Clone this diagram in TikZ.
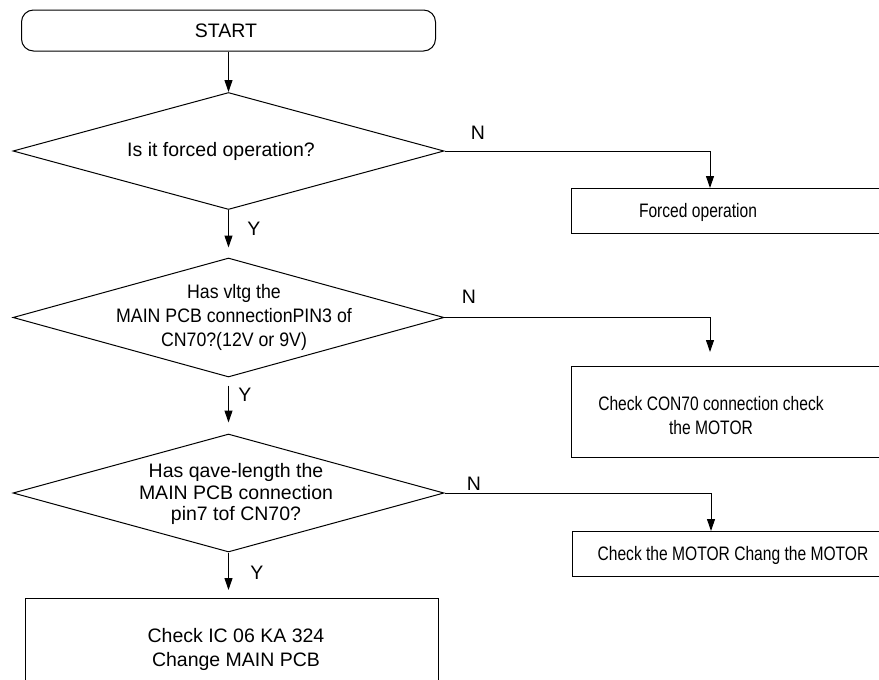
\documentclass[tikz,border=0pt]{standalone}
\usepackage{fontspec}
\setmainfont{Liberation Sans}
\newfontfamily\narrowfont[FakeStretch=0.8]{Liberation Sans}
\newfontfamily\semifont[FakeStretch=0.91]{Liberation Sans}
\usetikzlibrary{shapes.geometric,arrows.meta}
\begin{document}
\begin{tikzpicture}[x=1pt,y=-1pt,
  line width=1pt,
  every node/.style={font=\fontsize{19.5}{24}\selectfont, align=center, inner sep=0pt},
  dia/.style={draw, diamond, minimum width=431pt, minimum height=117pt, inner sep=0pt},
  boxnode/.style={draw, rectangle, anchor=north west},
  arr/.style={-{Triangle[length=12pt,width=8pt]}},
  lbl/.style={font=\fontsize{19.5}{24}\selectfont}
]
\useasboundingbox (0,0) rectangle (879,680);
\clip (0,0) rectangle (879,680);

% start
\node[draw, rounded corners=12pt, minimum width=414pt, minimum height=41pt] (start) at (228.5,30.5) {};
\node (starttxt) at (226,31) {START};

% decisions
\node[dia] (d1) at (228.5,151) {};
\node (d1t) at (221,151) {Is it forced operation?};
\node[dia, minimum height=119pt] (d2) at (228.5,317.5) {};
\node (d2t) at (234,317) {\semifont Has vltg the\\\semifont MAIN PCB connectionPIN3 of\\\semifont CN70?(12V or 9V)};
\node[dia, minimum height=118pt] (d3) at (228.5,493) {};
\node[font=\fontsize{19.5}{21.5}\selectfont] (d3t) at (236,494) {Has qave-length the\\MAIN PCB connection\\pin7 tof CN70?};

% boxes
\node[boxnode, minimum width=330pt, minimum height=45pt] (b1) at (571,188) {};
\node (b1t) at (698,212) {\narrowfont Forced operation};
\node[boxnode, minimum width=330pt, minimum height=91pt] (b2) at (571,366) {};
\node (b2t) at (711,416) {\narrowfont Check CON70 connection check\\\narrowfont the MOTOR};
\node[boxnode, minimum width=330pt, minimum height=45pt] (b3) at (572,531) {};
\node (b3t) at (733,555) {\narrowfont Check the MOTOR Chang the MOTOR};
\node[boxnode, minimum width=413pt, minimum height=120pt] (b4) at (25,598) {};
\node (b4t) at (236,649) {Check IC 06 KA 324\\Change MAIN PCB};

% arrow targets
\coordinate (t1) at (710,188);
\coordinate (t2) at (710,352);
\coordinate (t3) at (711,531);

% connectors
\draw[arr] (start.south) -- (d1.north);
\draw[arr, shorten >=10pt] (d1.south) -- (d2.north);
\draw[arr, shorten <=8pt, shorten >=11pt] (d2.south) -- (d3.north);
\draw[arr, shorten >=8pt] (d3.south) -- (d3.south |- b4.north);
\draw[arr] (d1.east) -| (t1);
\draw[arr] (d2.east) -| (t2);
\draw[arr] (d3.east) -| (t3);

% labels
\node[lbl] (y1) at (254,229) {Y};
\node[lbl] (y2) at (245,395) {Y};
\node[lbl] (y3) at (257,573) {Y};
\node[lbl] (n1) at (478,133) {N};
\node[lbl] (n2) at (469,297) {N};
\node[lbl] (n3) at (474,484) {N};
\end{tikzpicture}
\end{document}
